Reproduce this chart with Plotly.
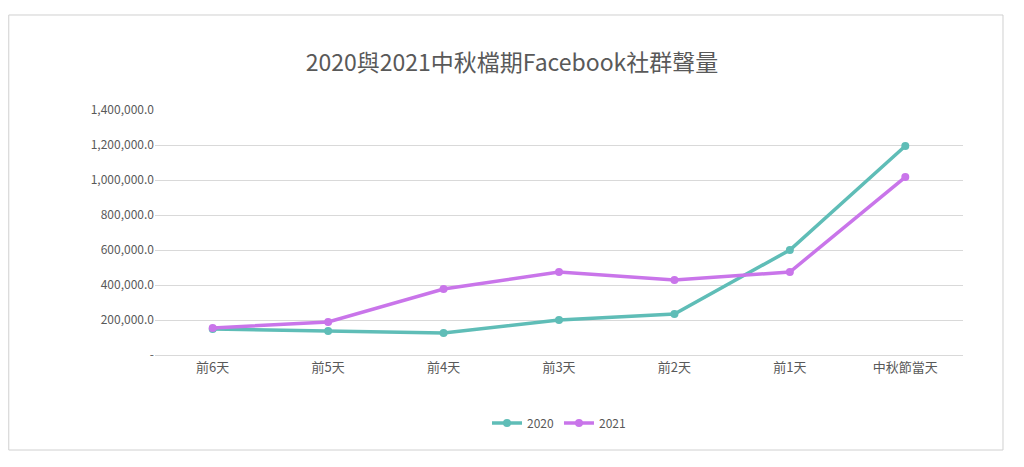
import plotly.graph_objects as go

categories = ["前6天", "前5天", "前4天", "前3天", "前2天", "前1天", "中秋節當天"]
values_2020 = [148000, 137000, 126000, 200000, 234000, 600000, 1194000]
values_2021 = [154000, 189000, 377000, 474000, 429000, 474000, 1017000]
tick_vals = [0, 200000, 400000, 600000, 800000, 1000000, 1200000, 1400000]
tick_text = ["-", "200,000.0", "400,000.0", "600,000.0", "800,000.0", "1,000,000.0", "1,200,000.0", "1,400,000.0"]

font = "Noto Sans CJK TC"
fig = go.Figure()
fig.add_trace(go.Scatter(x=categories, y=values_2020, name="2020", mode="lines+markers",
                         line=dict(color="#5fbdb7", width=3.5), marker=dict(size=8)))
fig.add_trace(go.Scatter(x=categories, y=values_2021, name="2021", mode="lines+markers",
                         line=dict(color="#c975ea", width=3.5), marker=dict(size=8)))
fig.update_layout(
    width=1008, height=451, paper_bgcolor="white", plot_bgcolor="white",
    margin=dict(l=147, r=53, t=102, b=104),
    font=dict(family=font, color="#595959", size=12),
    title=dict(text="2020與2021中秋檔期Facebook社群聲量", x=0.5, xanchor="center",
               y=1 - 55 / 451, yanchor="middle", font=dict(size=23, color="#595959")),
    legend=dict(orientation="h", x=0.5, xanchor="center", y=-0.2776, yanchor="middle",
                font=dict(size=12, color="#595959")),
    xaxis=dict(type="category", range=[-0.5, 6.5], showgrid=False, ticks="",
               showline=True, linecolor="#d9d9d9", tickfont=dict(size=13)),
    yaxis=dict(range=[0, 1400000], tickvals=tick_vals, ticktext=tick_text,
               gridcolor="#d9d9d9", zeroline=False, ticks="", tickfont=dict(size=12)),
    shapes=[dict(type="rect", xref="paper", yref="paper", x0=-0.181, x1=1.0495,
                 y0=-0.3878, y1=1.3878, line=dict(color="#d0d0d0", width=1))],
)
fig.write_html("out.html")
